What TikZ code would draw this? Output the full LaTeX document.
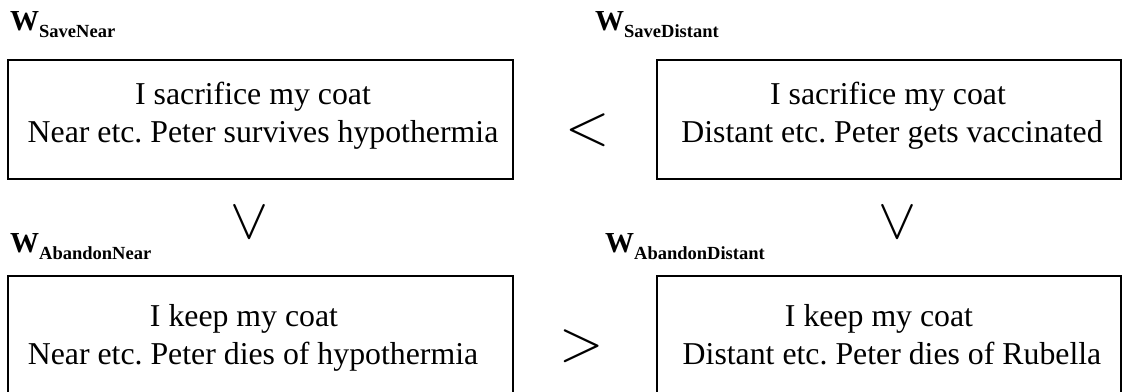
\documentclass[tikz,border=0pt]{standalone}
\usepackage{fontspec}
\setmainfont{Liberation Serif}
\frenchspacing
\begin{document}
\begin{tikzpicture}[x=1pt,y=-1pt,
  world/.style={draw, line width=1.5pt, rectangle, inner sep=0pt, outer sep=0pt},
  body/.style={align=center, font=\fontsize{31.8}{38}\selectfont, inner sep=0pt, anchor=base},
  wname/.style={anchor=base west, inner sep=0pt, font=\bfseries},
  rel/.style={inner sep=0pt, scale=5.7}
]
\useasboundingbox (0,0) rectangle (1123,391);

% the four worlds
\node[world, minimum width=505pt, minimum height=119pt] (save near) at (260.5,119.5) {};
\node[world, minimum width=464pt, minimum height=119pt] (save distant) at (889,119.5) {};
\node[world, minimum width=505pt, minimum height=119pt] (abandon near) at (260.5,335.5) {};
\node[world, minimum width=464pt, minimum height=119pt] (abandon distant) at (889,335.5) {};

% what happens in each world (anchored on the baseline of the second line)
\node[body] (save near text) at (263,142) {I sacrifice my coat\hspace*{20pt}\\Near etc. Peter survives hypothermia};
\node[body] (save distant text) at (892,142) {I sacrifice my coat\hspace*{8pt}\\Distant etc. Peter gets vaccinated};
\node[body] (abandon near text) at (253,364) {I keep my coat\hspace*{18pt}\\Near etc. Peter dies of hypothermia};
\node[body] (abandon distant text) at (892,364) {I keep my coat\hspace*{26pt}\\Distant etc. Peter dies of Rubella};

% world names
\newcommand{\worldname}[1]{{\fontsize{29}{29}\selectfont W}\raisebox{-7pt}{\fontsize{18.5}{18.5}\selectfont #1}}
\node[wname] (save near name) at (10,30) {\worldname{SaveNear}};
\node[wname] (save distant name) at (595,30) {\worldname{SaveDistant}};
\node[wname] (abandon near name) at (10,252) {\worldname{AbandonNear}};
\node[wname] (abandon distant name) at (605,252) {\worldname{AbandonDistant}};

% orderings between worlds
\node[rel] (save order) at (588,130) {$<$};
\node[rel] (abandon order) at (582,346) {$>$};
\node[rel] (near order) at (249,223) {$\vee$};
\node[rel] (distant order) at (897,223) {$\vee$};
\end{tikzpicture}
\end{document}
